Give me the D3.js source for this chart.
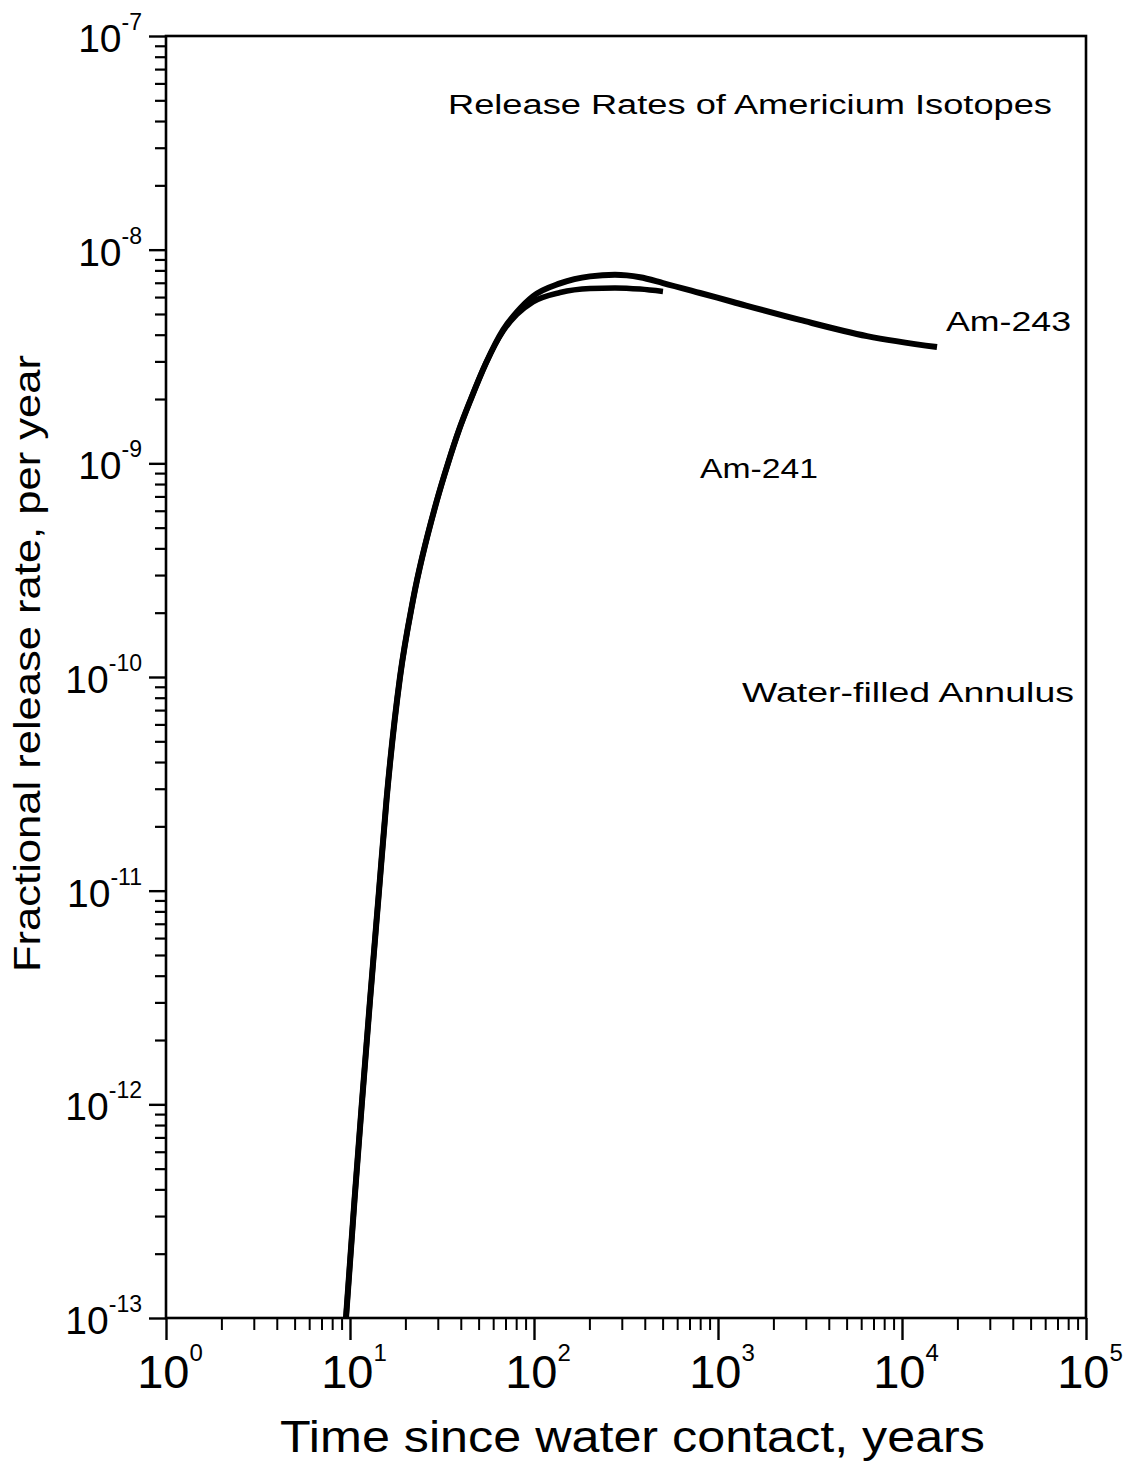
<!DOCTYPE html>
<html>
<head>
<meta charset="utf-8">
<script src="https://cdn.jsdelivr.net/npm/d3@7"></script>
<style>
  html, body { margin: 0; padding: 0; background: #fff; }
  svg { display: block; }
  .tick-label { font-family: "Liberation Sans Narrow", "Liberation Sans", Arial, sans-serif; fill: #000; }
  .anno { font-family: "Liberation Sans", "DejaVu Sans", sans-serif; fill: #000; }
</style>
</head>
<body>
<script>
// ---------- data ----------
const years243 = [9.51, 10.58, 11.59, 12.85, 14.38, 15.79, 18.70, 22.00, 29.71, 34.09, 39.11, 45.17, 54.85, 67.87, 80.8, 98.8, 138.5, 201.5, 275.5, 376.8, 502.3, 798.4, 1206, 2790, 6452, 15500];
const rate243  = [1e-13, 3.566e-13, 1.0e-12, 3.078e-12, 1.0e-11, 2.657e-11, 1.0e-10, 2.293e-10, 6.736e-10, 1.0e-9, 1.432e-9, 1.978e-9, 2.948e-9, 4.207e-9, 5.11e-9, 6.05e-9, 6.95e-9, 7.5e-9, 7.63e-9, 7.43e-9, 6.98e-9, 6.27e-9, 5.69e-9, 4.69e-9, 3.94e-9, 3.50e-9];

const years241 = [9.51, 10.58, 11.59, 12.85, 14.38, 15.79, 18.70, 22.00, 29.71, 34.09, 39.11, 45.17, 54.85, 67.87, 80.8, 98.8, 138.5, 201.5, 275.5, 376.8, 502.3];
const rate241  = [1e-13, 3.566e-13, 1.0e-12, 3.078e-12, 1.0e-11, 2.657e-11, 1.0e-10, 2.293e-10, 6.736e-10, 1.0e-9, 1.432e-9, 1.978e-9, 2.948e-9, 4.15e-9, 4.98e-9, 5.7e-9, 6.3e-9, 6.58e-9, 6.62e-9, 6.54e-9, 6.37e-9];

const xTickExps = [0, 1, 2, 3, 4, 5];
const yTickExps = [-7, -8, -9, -10, -11, -12, -13];

const annotations = ["Release Rates of Americium Isotopes", "Am-243", "Am-241", "Water-filled Annulus"];

// ---------- layout ----------
const W = 1125, H = 1466;
const L = 166, R = 1086, T = 36, B = 1318;

const svg = d3.select("body").append("svg").attr("width", W).attr("height", H);

const x = d3.scaleLog().domain([1, 1e5]).range([L, R]);
const y = d3.scaleLog().domain([1e-13, 1e-7]).range([B, T]);

// minor / major tick values
const xMinor = [], yMinor = [];
for (let e = 0; e < 5; e++) for (let m = 2; m <= 9; m++) xMinor.push(m * Math.pow(10, e));
for (let e = -13; e < -7; e++) for (let m = 2; m <= 9; m++) yMinor.push(m * Math.pow(10, e));
const xMajor = xTickExps.map(e => Math.pow(10, e));
const yMajor = yTickExps.map(e => Math.pow(10, e));

function styleAxis(g, w) {
  g.select(".domain").remove();
  g.selectAll("line").attr("stroke", "#000").attr("stroke-width", w);
}

// bottom axis ticks
svg.append("g").attr("transform", `translate(0,${B})`)
  .call(d3.axisBottom(x).tickValues(xMinor).tickSize(12).tickFormat(""))
  .call(g => styleAxis(g, 2));
svg.append("g").attr("transform", `translate(0,${B})`)
  .call(d3.axisBottom(x).tickValues(xMajor).tickSize(22).tickFormat(""))
  .call(g => styleAxis(g, 2.4));

// left axis ticks
svg.append("g").attr("transform", `translate(${L},0)`)
  .call(d3.axisLeft(y).tickValues(yMinor).tickSize(11).tickFormat(""))
  .call(g => styleAxis(g, 2.2));
svg.append("g").attr("transform", `translate(${L},0)`)
  .call(d3.axisLeft(y).tickValues(yMajor).tickSize(17).tickFormat(""))
  .call(g => styleAxis(g, 2.4));

// frame
svg.append("rect").attr("x", L).attr("y", T).attr("width", R - L).attr("height", B - T)
  .attr("fill", "none").attr("stroke", "#000").attr("stroke-width", 2.6);

// x tick labels
const xl = svg.append("g").selectAll("text").data(xTickExps).join("text")
  .attr("class", "tick-label")
  .attr("x", d => x(Math.pow(10, d)) + 4)
  .attr("y", B + 70)
  .attr("text-anchor", "middle");
xl.append("tspan").attr("font-size", 47).text("10");
xl.append("tspan").attr("font-size", 24).attr("dy", -27).text(d => d);

// y tick labels
const yl = svg.append("g").selectAll("text").data(yTickExps).join("text")
  .attr("class", "tick-label")
  .attr("x", 142)
  .attr("y", d => y(Math.pow(10, d)) + 16)
  .attr("text-anchor", "end");
yl.append("tspan").attr("font-size", 39).text("10");
yl.append("tspan").attr("font-size", 23).attr("dy", -22).text(d => "-" + Math.abs(d));

// axis titles
svg.append("text").attr("class", "tick-label")
  .attr("x", (280 + 985) / 2).attr("y", 1452)
  .attr("text-anchor", "middle").attr("font-size", 44)
  .attr("textLength", 705).attr("lengthAdjust", "spacingAndGlyphs")
  .text("Time since water contact, years");

svg.append("text").attr("class", "tick-label")
  .attr("transform", `translate(40,${(355 + 972) / 2}) rotate(-90)`)
  .attr("text-anchor", "middle").attr("font-size", 37)
  .attr("textLength", 617).attr("lengthAdjust", "spacingAndGlyphs")
  .text("Fractional release rate, per year");

// curves
const line = d3.line().x(d => x(d[0])).y(d => y(d[1])).curve(d3.curveMonotoneX);
const s243 = years243.map((t, i) => [t, rate243[i]]);
const s241 = years241.map((t, i) => [t, rate241[i]]);

svg.append("path").datum(s241).attr("d", line)
  .attr("fill", "none").attr("stroke", "#000").attr("stroke-width", 5.5);
svg.append("path").datum(s243).attr("d", line)
  .attr("fill", "none").attr("stroke", "#000").attr("stroke-width", 6);

// annotations
const annoLen = [604, 125, 118, 332];
const annoX = [448, 946, 700, 742];
const annoY = [114, 331, 478, 702];
svg.append("g").selectAll("text").data(annotations).join("text")
  .attr("class", "anno")
  .attr("x", (d, i) => annoX[i])
  .attr("y", (d, i) => annoY[i])
  .attr("font-size", 27)
  .attr("textLength", (d, i) => annoLen[i])
  .attr("lengthAdjust", "spacingAndGlyphs")
  .text(d => d);
</script>
</body>
</html>
